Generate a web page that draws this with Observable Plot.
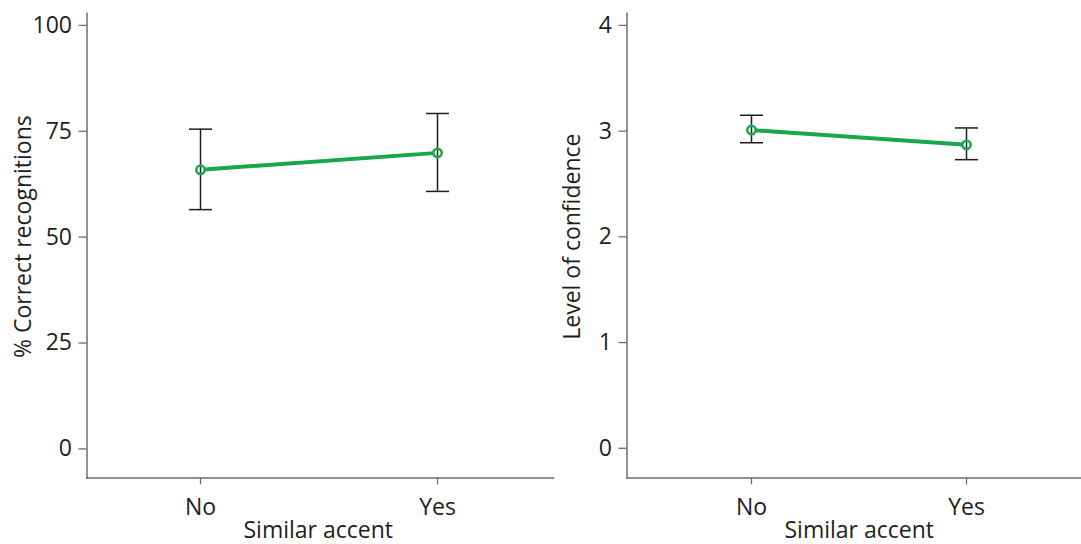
<!DOCTYPE html>
<html>
<head>
<meta charset="utf-8">
<script src="https://cdn.jsdelivr.net/npm/d3@7"></script>
<script src="https://cdn.jsdelivr.net/npm/@observablehq/plot@0.6"></script>
<style>
  html, body { margin: 0; padding: 0; background: #fff; }
  #wrap { position: relative; width: 1081px; height: 544px; overflow: hidden; background: #fff; }
  #left, #right { position: absolute; top: 0; }
  #left { left: 0; }
  #right { left: 540px; }
  svg { overflow: visible; }
</style>
</head>
<body>
<div id="wrap"><div id="left"></div><div id="right"></div></div>
<script>
// ---- data ----
const categories = ["No", "Yes"];
const recogMean = [65.9, 69.9];
const recogLow  = [56.5, 60.8];
const recogHigh = [75.5, 79.2];
const confMean = [3.01, 2.87];
const confLow  = [2.89, 2.73];
const confHigh = [3.15, 3.03];
const recogTicks = [0, 25, 50, 75, 100];
const confTicks = [0, 1, 2, 3, 4];
const xTitle = "Similar accent";
const recogTitle = "% Correct recognitions";
const confTitle = "Level of confidence";

const green = "#17a84a";
const axisGrey = "#6e6e6e";
const ink = "#1e1e1e";
const font = "Open Sans";
const fs = 23;

// horizontal cap symbol (half-width = r)
const capSymbol = {
  draw(ctx, size) {
    const w = Math.sqrt(size / Math.PI);
    ctx.moveTo(-w, 0);
    ctx.lineTo(w, 0);
  }
};

function rows(mean, lo, hi) {
  return categories.map((c, i) => ({cat: c, mean: mean[i], lo: lo[i], hi: hi[i]}));
}

function panel({data, width, xRange, yDomain, yRange, ticks, ylabel, xdx, ydx}) {
  return Plot.plot({
    width, height: 544,
    marginLeft: 86.5, marginRight: 0, marginTop: 12.8, marginBottom: 66.5,
    style: {fontFamily: font, fontSize: fs + "px", background: "transparent", overflow: "visible", color: ink},
    x: {type: "point", domain: categories, range: xRange, padding: 0},
    y: {type: "linear", domain: yDomain, range: yRange},
    marks: [
      Plot.frame({anchor: "left", stroke: axisGrey, strokeWidth: 1.5}),
      Plot.frame({anchor: "bottom", stroke: axisGrey, strokeWidth: 1.5}),
      Plot.axisY({ticks, tickSize: 8, tickPadding: 7, stroke: axisGrey, fill: ink, strokeWidth: 1.3, fontSize: fs, label: null, tickFormat: d => String(d)}),
      Plot.axisX({tickSize: 7, tickPadding: 14, stroke: axisGrey, fill: ink, strokeWidth: 1.3, fontSize: fs, label: null}),
      Plot.line(data, {x: "cat", y: "mean", stroke: green, strokeWidth: 4}),
      Plot.dot(data, {x: "cat", y: "mean", r: 4.2, fill: "white", stroke: "none"}),
      Plot.ruleX(data, {x: "cat", y1: "lo", y2: "hi", stroke: ink, strokeWidth: 1.5}),
      Plot.dot(data, {x: "cat", y: "hi", r: 11.5, symbol: capSymbol, fill: "none", stroke: ink, strokeWidth: 1.5}),
      Plot.dot(data, {x: "cat", y: "lo", r: 11.5, symbol: capSymbol, fill: "none", stroke: ink, strokeWidth: 1.5}),
      Plot.dot(data, {x: "cat", y: "mean", r: 4.2, fill: "none", stroke: green, strokeWidth: 2.5}),
      Plot.text([xTitle], {frameAnchor: "bottom", text: d => d, lineAnchor: "bottom", dy: 59.5, dx: xdx, fontSize: fs, fill: ink}),
      Plot.text([ylabel], {frameAnchor: "left", text: d => d, rotate: -90, lineAnchor: "middle", textAnchor: "middle", dx: ydx, dy: -9, fontSize: fs, fill: ink})
    ]
  });
}

document.getElementById("left").appendChild(panel({
  data: rows(recogMean, recogLow, recogHigh),
  width: 553, xRange: [200, 437], yDomain: [0, 100], yRange: [448.4, 24.9],
  ticks: recogTicks, ylabel: recogTitle, xdx: -2, ydx: -63.7
}));
document.getElementById("right").appendChild(panel({
  data: rows(confMean, confLow, confHigh),
  width: 541, xRange: [210.4, 426.3], yDomain: [0, 4], yRange: [447.8, 24.9],
  ticks: confTicks, ylabel: confTitle, xdx: 5, ydx: -54.1
}));
</script>
</body>
</html>
